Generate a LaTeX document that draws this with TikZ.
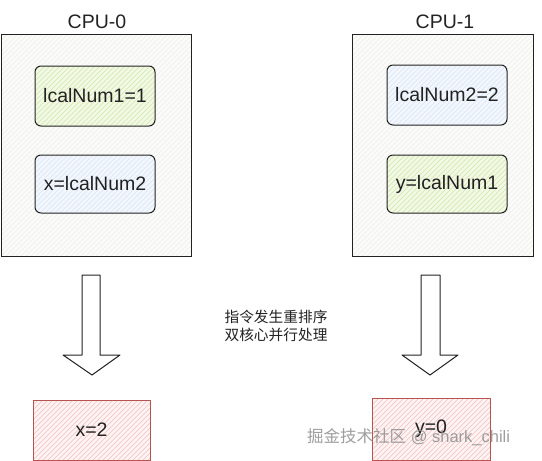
\documentclass[tikz,border=0pt]{standalone}
\usepackage{fontspec}
\setmainfont{Liberation Sans}
\newfontfamily\cjk{Noto Sans CJK SC}
\usetikzlibrary{calc}
\definecolor{ink}{HTML}{222222}
\definecolor{cpufill}{HTML}{FBFBF9}
\definecolor{cpuhatch}{HTML}{EEEEEA}
\definecolor{gfill}{HTML}{F2F8E6}
\definecolor{ghatch}{HTML}{D2E9A6}
\definecolor{bfill}{HTML}{F3F7FD}
\definecolor{bhatch}{HTML}{D8E5F7}
\definecolor{rfill}{HTML}{FDF3F3}
\definecolor{rhatch}{HTML}{F2C0BE}
\definecolor{rstroke}{HTML}{B85450}
\tikzset{
  hatch/.style={path picture={
    \foreach \k in {-60,...,60} {
      \draw[#1, line width=0.5pt] ([xshift=\k*5pt]path picture bounding box.south west) -- ++(300pt,300pt);
    }}},
  cpubox/.style={draw=ink, line width=1pt, fill=cpufill, hatch=cpuhatch, inner sep=0pt},
  gbox/.style={draw=ink, line width=1pt, rounded corners=6pt, fill=gfill, hatch=ghatch,
    minimum width=120pt, minimum height=60pt, font=\fontsize{19.5}{23}\selectfont, text=ink},
  bbox/.style={gbox, fill=bfill, hatch=bhatch},
  rbox/.style={draw=rstroke, line width=1pt, fill=rfill, hatch=rhatch,
    minimum width=117pt, minimum height=60pt, font=\fontsize{19.5}{23}\selectfont, text=ink},
  title/.style={font=\fontsize{19.5}{23}\selectfont, text=ink},
  barrow/.style={draw=ink, line width=1pt, fill=white, line join=round},
}
\begin{document}
\begin{tikzpicture}[x=1pt,y=-1pt]
\useasboundingbox (0,0) rectangle (542,461);
% CPU boxes
\node[title] (t0) at (97,22) {CPU-0};
\node[cpubox, minimum width=190pt, minimum height=222pt] (cpu0) at (96,145) {};
\node[title] (t1) at (445,22) {CPU-1};
\node[cpubox, minimum width=181pt, minimum height=222pt] (cpu1) at (442.5,145) {};
% inner boxes
\node[gbox] (a1) at (95,96) {lcalNum1=1};
\node[bbox, minimum height=58pt] (a2) at (95,184) {x=lcalNum2};
\node[bbox] (b1) at (447,95) {lcalNum2=2};
\node[gbox, minimum height=58pt] (b2) at (447,184) {y=lcalNum1};
% block arrows
\draw[barrow] (82,275) -- (100,275) -- (100,355) -- (120,355) -- (92,375) -- (63,355) -- (82,355) -- cycle;
\draw[barrow] (421,275) -- (440,275) -- (440,355) -- (458,355) -- (430,375) -- (402,355) -- (421,355) -- cycle;
% middle text
\node[font=\cjk\fontsize{14.7}{18.5}\selectfont, text=ink, align=center] (mid) at (276,326) {指令发生重排序\\双核心并行处理};
% result boxes
\node[rbox] (r0) at (91.5,430) {x=2};
\node[rbox, minimum width=118pt, minimum height=62pt] (r1) at (431,429) {y=0};
% watermark
\node[anchor=west, text=gray!85, opacity=0.9, font=\fontsize{16.5}{19}\selectfont, inner sep=0pt] (wm) at (307,437) {{\cjk 掘金技术社区} @ shark\_chili};
\end{tikzpicture}
\end{document}
